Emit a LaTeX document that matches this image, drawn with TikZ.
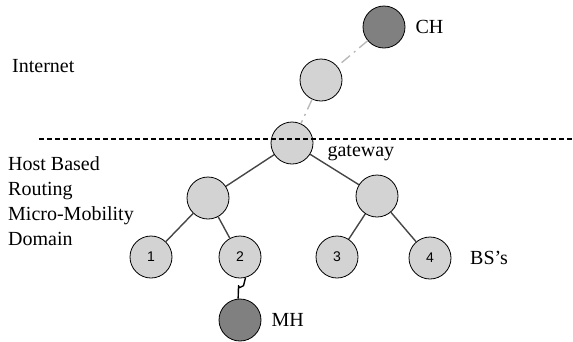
\documentclass[tikz,border=0pt]{standalone}
\usepackage{fontspec}
\setmainfont{Liberation Serif}
\newfontfamily\leaffont{Liberation Sans}
\usepackage{tikz}
\usetikzlibrary{shapes,arrows,positioning}
\definecolor{nodegray}{RGB}{211,211,211}
\definecolor{hostgray}{RGB}{128,128,128}
\definecolor{linegray}{RGB}{70,70,70}
\definecolor{netgray}{RGB}{185,185,185}
\tikzstyle{rnode} = [circle, draw, line width=0.8pt, fill=nodegray, minimum size=42pt, inner sep=0pt, font=\leaffont\fontsize{14}{14}\selectfont]
\tikzstyle{hnode} = [rnode, fill=hostgray]
\tikzstyle{line} = [draw, linegray, line width=1.4pt]
\tikzstyle{netline} = [draw, netgray, line width=1.4pt, dash pattern=on 11pt off 5pt on 2pt off 5pt]
\tikzstyle{txt} = [font=\fontsize{20}{25}\selectfont, inner sep=0pt]

\begin{document}
\begin{tikzpicture}[x=1pt, y=-1pt, every label/.style={txt}]
			\useasboundingbox (0,0) rectangle (573,341);
			\node [hnode, label={[label distance=10pt]right:CH}] (ch) at (384, 27) {};
			\node [rnode] (inet) at (321, 80) {};
			\node [rnode, label={[label distance=14pt, yshift=-10pt]right:gateway}] (gw) at (292, 143) {};
			\node [rnode] (left) at (208, 198) {};
			\node [rnode] (right) at (377, 196) {};
			\node [rnode] (1) at (151, 257) {1};
			\node [rnode] (2) at (240, 257) {2};
			\node [rnode] (3) at (337, 257) {3};
			\node [rnode] (4) at (430, 258) {4};
			\node [hnode, label={[label distance=10pt]right:MH}] (mh) at (240, 320) {};
		
			\node [txt, anchor=west] (internet) at (12, 66) {Internet};
			\node [txt, anchor=west, align=left] (domain) at (8, 201) {Host Based\\Routing\\Micro-Mobility\\Domain};
			\node [txt, anchor=west] (bs) at (470, 258) {BS's};
			\coordinate (cutl) at (39, 139);
			\coordinate (cutr) at (572, 139);
		
			\path [netline] (ch) -- (inet);
			\path [netline] (inet) -- (gw);
			\path [line] (gw) -- (left);
			\path [line] (gw) -- (right);
			\path [line] (left) -- (1);
			\path [line] (left) -- (2);
			\path [line] (right) -- (3);
			\path [line] (right) -- (4);
			\draw [black, line width=1.4pt, line join=round] (2.-75) -- ++(-2,8) -- ++(-4,2) -- ++(-1,-2) -- (mh.95);
			\draw [black, line width=1.4pt, dash pattern=on 5pt off 3pt] (cutl) -- (cutr);
		\end{tikzpicture}
\end{document}
